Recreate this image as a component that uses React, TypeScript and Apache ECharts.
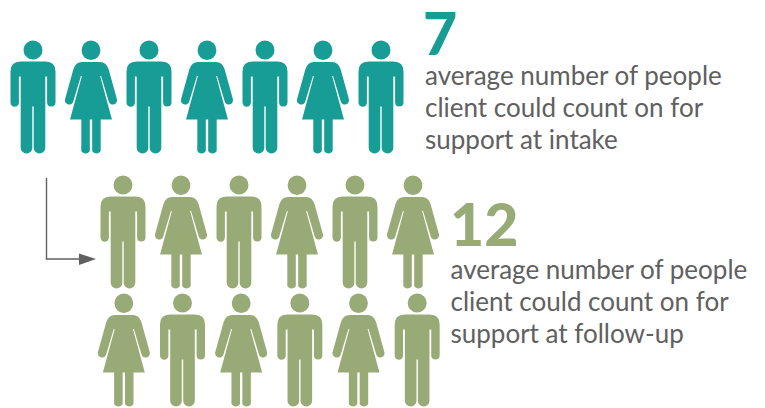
import React, { useEffect, useRef } from "react";
import * as echarts from "echarts";

// People a client could count on, one figure per person
const intakePeople = ["man", "woman", "man", "woman", "man", "woman", "man"];
const followUpRowOne = ["man", "woman", "man", "woman", "man", "woman"];
const followUpRowTwo = ["woman", "man", "woman", "man", "woman", "man"];

const intakeAverage = intakePeople.length;
const followUpAverage = followUpRowOne.length + followUpRowTwo.length;

const intakeLines = [
  "average number of people",
  "client could count on for",
  "support at intake",
];
const followUpLines = [
  "average number of people",
  "client could count on for",
  "support at follow-up",
];

const TEAL = "#179c96";
const GREEN = "#98ab77";
const GREY = "#606060";

const MAN_PATH =
  "path://M13 9.5A9.5 9.5 0 1 1 32 9.5A9.5 9.5 0 1 1 13 9.5Z" +
  "M10 21H35Q45 21 45 31V62A4.2 4.2 0 0 1 36.6 62V36H34.8V107.2A5.8 5.8 0 0 1 23.2 107.2V66H21.8V107.2A5.8 5.8 0 0 1 10.2 107.2V36H8.4V62A4.2 4.2 0 0 1 0 62V31Q0 21 10 21Z";

const WOMAN_PATH =
  "path://M16.7 9.5A9.5 9.5 0 1 1 35.7 9.5A9.5 9.5 0 1 1 16.7 9.5Z" +
  "M17 21H35.4Q41.5 21 44 28L52.2 56.5A4.2 4.2 0 0 1 44.2 59.5L36.4 34.5H35.4L47.4 76.7H36V107.4A5 5 0 0 1 27.4 107.4V76.7H25V107.4A5 5 0 0 1 16.4 107.4V76.7H5L17 34.5H16L8.2 59.5A4.2 4.2 0 0 1 0.2 56.5L8.4 28Q10.9 21 17 21Z";

const MAN_SIZE = [45, 113];
const WOMAN_SIZE = [52, 113];

function figureRow(people: string[], color: string, gridIndex: number) {
  return {
    type: "scatter",
    xAxisIndex: gridIndex,
    yAxisIndex: gridIndex,
    silent: true,
    itemStyle: { color, opacity: 1 },
    data: people.map((kind, i) => ({
      value: [i, 0],
      symbol: kind === "man" ? MAN_PATH : WOMAN_PATH,
      symbolSize: kind === "man" ? MAN_SIZE : WOMAN_SIZE,
    })),
  };
}

function hiddenAxes(count: number, gridIndex: number) {
  return {
    x: {
      type: "category",
      show: false,
      gridIndex,
      data: Array.from({ length: count }, (_, i) => String(i)),
    },
    y: { type: "category", show: false, gridIndex, data: ["row"] },
  };
}

function textBlock(lines: string[], x: number, middle: number) {
  return lines.map((line, i) => ({
    type: "text",
    x,
    y: middle + i * 32,
    silent: true,
    style: {
      text: line,
      fill: GREY,
      font: '400 26px Lato, "Noto Sans", sans-serif',
      verticalAlign: "middle",
    },
  }));
}

function bigNumber(
  value: number,
  color: string,
  x: number,
  middle: number,
  size: number
) {
  return {
    type: "text",
    x,
    y: middle,
    silent: true,
    style: {
      text: String(value),
      fill: color,
      font: `900 ${size}px Lato, "Noto Sans", sans-serif`,
      verticalAlign: "middle",
    },
  };
}

export default function App() {
  const ref = useRef<HTMLDivElement>(null);

  useEffect(() => {
    const chart = echarts.init(ref.current!, undefined, { renderer: "svg" });
    const axes = [
      hiddenAxes(intakePeople.length, 0),
      hiddenAxes(followUpRowOne.length, 1),
      hiddenAxes(followUpRowTwo.length, 2),
    ];
    chart.setOption({
      animation: false,
      backgroundColor: "#ffffff",
      grid: [
        { left: 4, top: 40, width: 406, height: 114 },
        { left: 94, top: 175, width: 348, height: 114 },
        { left: 94.5, top: 293, width: 352, height: 114 },
      ],
      xAxis: axes.map((a) => a.x),
      yAxis: axes.map((a) => a.y),
      series: [
        figureRow(intakePeople, TEAL, 0),
        figureRow(followUpRowOne, GREEN, 1),
        figureRow(followUpRowTwo, GREEN, 2),
      ],
      graphic: [
        bigNumber(intakeAverage, TEAL, 423, 32, 59),
        ...textBlock(intakeLines, 425, 74.5),
        bigNumber(followUpAverage, GREEN, 450, 223.5, 59),
        ...textBlock(followUpLines, 450.5, 268.5),
        // Elbow arrow leading from the intake row to the follow-up rows
        {
          type: "polyline",
          silent: true,
          shape: { points: [[46.5, 178], [46.5, 259], [82, 259]] },
          style: { stroke: GREY, lineWidth: 1.4, fill: "none" },
        },
        {
          type: "polygon",
          silent: true,
          shape: { points: [[79, 253.5], [96, 259], [79, 265]] },
          style: { fill: GREY },
        },
      ],
    });
    return () => chart.dispose();
  }, []);

  return (
    <div
      ref={ref}
      style={{ position: "fixed", left: 0, top: 0, width: 765, height: 408 }}
    />
  );
}
